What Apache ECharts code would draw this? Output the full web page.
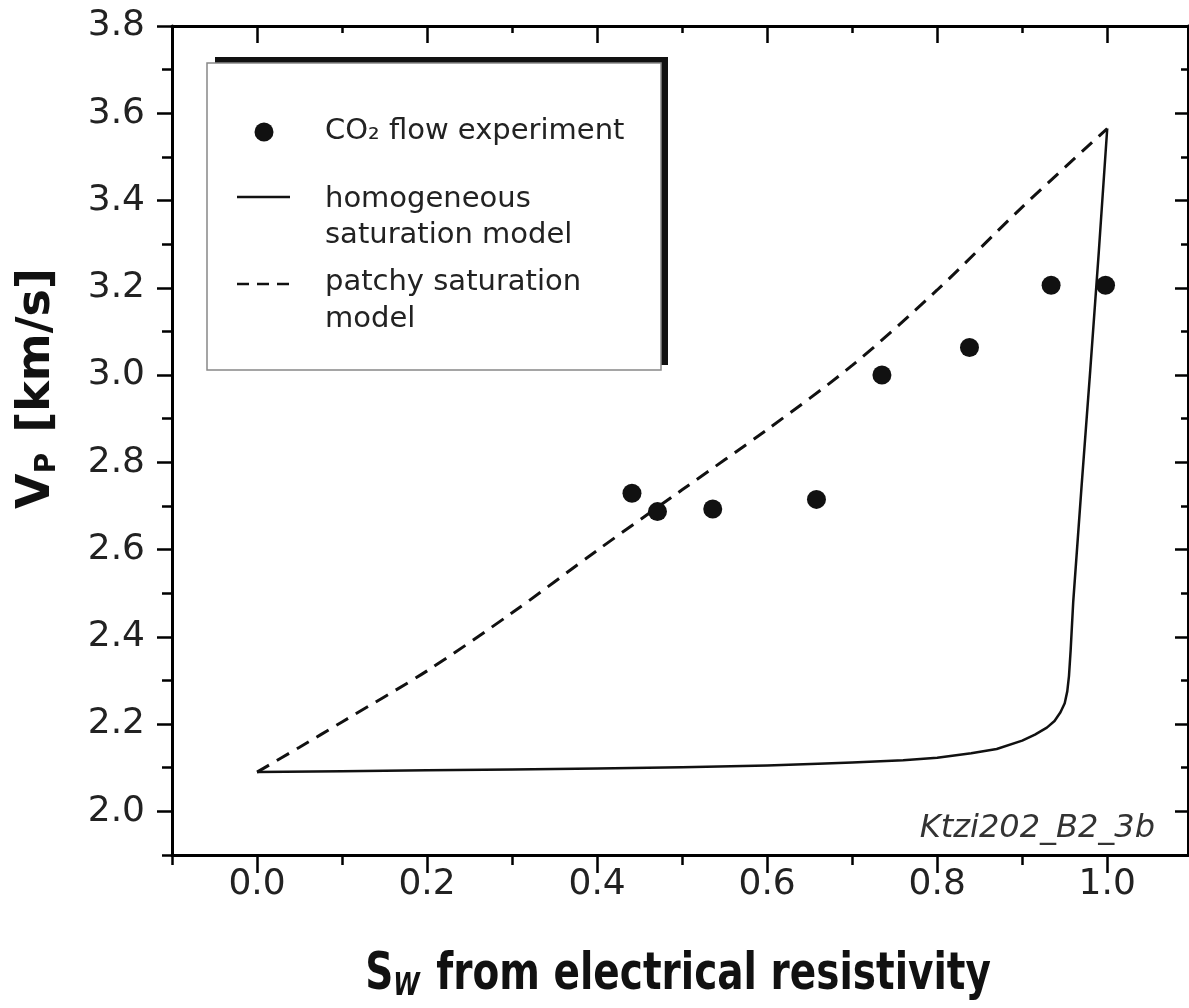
<!DOCTYPE html>
<html>
<head>
<meta charset="utf-8">
<script src="https://cdn.jsdelivr.net/npm/echarts@6/dist/echarts.min.js"></script>
<style>html,body{margin:0;padding:0;background:#fff}#c{width:1189px;height:1008px}</style>
</head>
<body>
<div id="c"></div>
<script>
// ---- data ----
var expS = [0.441, 0.471, 0.536, 0.658, 0.735, 0.838, 0.934, 0.998];
var expV = [2.729, 2.687, 2.693, 2.715, 3.000, 3.063, 3.206, 3.206];

var homS = [0, 0.1, 0.2, 0.3, 0.4, 0.5, 0.6, 0.66, 0.7, 0.76, 0.8, 0.84, 0.87, 0.9, 0.915, 0.929, 0.938, 0.945, 0.95, 0.953, 0.955, 0.957, 0.96, 0.97, 0.98, 0.99, 1.0];
var homV = [2.09, 2.092, 2.094, 2.096, 2.098, 2.101, 2.105, 2.109, 2.112, 2.117, 2.123, 2.133, 2.143, 2.162, 2.176, 2.192, 2.207, 2.227, 2.248, 2.275, 2.31, 2.37, 2.48, 2.75, 3.01, 3.28, 3.565];

var patS = [0, 0.05, 0.1, 0.2, 0.3, 0.4, 0.5, 0.6, 0.7, 0.8, 0.9, 1.0];
var patV = [2.09, 2.147, 2.205, 2.322, 2.455, 2.598, 2.737, 2.875, 3.022, 3.195, 3.385, 3.565];

var xMajor = [0, 0.2, 0.4, 0.6, 0.8, 1.0];
var xMinor = [-0.1, 0.1, 0.3, 0.5, 0.7, 0.9];
var yMajor = [2.0, 2.2, 2.4, 2.6, 2.8, 3.0, 3.2, 3.4, 3.6, 3.8];
var yMinor = [1.9, 2.1, 2.3, 2.5, 2.7, 2.9, 3.1, 3.3, 3.5, 3.7];

function pairs(a, b) { return a.map(function (v, i) { return [v, b[i]]; }); }

var chart = echarts.init(document.getElementById('c'), null, {renderer: 'canvas'});
var labelFont = {fontFamily: 'DejaVu Sans', fontSize: 36, color: '#222'};
var XMIN = -0.1, XMAX = 1.095, YMIN = 1.9, YMAX = 3.8;

function xa(pos, vals, len, inside, showLine, label) {
  return {
    type: 'value', position: pos, min: XMIN, max: XMAX, interval: 0.1,
    axisLine: {show: showLine, onZero: false, lineStyle: {color: '#000', width: 3}},
    axisTick: {show: true, inside: inside, length: len, customValues: vals, lineStyle: {color: '#000', width: 2.5}},
    axisLabel: label ? Object.assign({show: true, customValues: vals, margin: 12, formatter: function (v) { return v.toFixed(1); }}, labelFont) : {show: false},
    splitLine: {show: false}
  };
}
function ya(pos, vals, len, inside, showLine, label) {
  return {
    type: 'value', position: pos, min: YMIN, max: YMAX, interval: 0.1,
    axisLine: {show: showLine, onZero: false, lineStyle: {color: '#000', width: 3}},
    axisTick: {show: true, inside: inside, length: len, customValues: vals, lineStyle: {color: '#000', width: 2.5}},
    axisLabel: label ? Object.assign({show: true, customValues: vals, margin: 27, formatter: function (v) { return v.toFixed(1); }}, labelFont) : {show: false},
    splitLine: {show: false}
  };
}

var y0 = ya('left', yMajor, 15, false, true, true);
y0.name = '{b|V}{s|P}{b| [km/s]}';
y0.nameLocation = 'middle';
y0.nameGap = 110;
y0.nameTextStyle = {
  padding: [0, 0, 0, 104],
  rich: {
    b: {fontFamily: 'DejaVu Sans', fontWeight: 'bold', fontSize: 46, color: '#111', lineHeight: 50},
    s: {fontFamily: 'DejaVu Sans', fontWeight: 'bold', fontSize: 28, color: '#111', verticalAlign: 'bottom', lineHeight: 32, padding: [10, 4, 0, 0]}
  }
};

var legendFont = '29px DejaVu Sans';
var option = {
  backgroundColor: '#fff',
  animation: false,
  grid: {left: 172, right: 1, top: 26, bottom: 153, containLabel: false, outerBoundsMode: 'none'},
  xAxis: [
    xa('bottom', xMajor, 18, false, true, true),
    xa('bottom', xMinor, 10, false, false, false),
    xa('top', xMajor, 17, true, true, false),
    xa('top', xMinor, 7, true, false, false)
  ],
  yAxis: [
    y0,
    ya('left', yMinor, 10, false, false, false),
    ya('right', yMajor, 13, true, true, false),
    ya('right', yMinor, 7, true, false, false)
  ],
  series: [
    {
      name: 'patchy saturation model', type: 'line', xAxisIndex: 0, yAxisIndex: 0,
      data: pairs(patS, patV), showSymbol: false, smooth: 0.3,
      lineStyle: {color: '#111', width: 3, type: [14, 9]}, z: 3
    },
    {
      name: 'homogeneous saturation model', type: 'line', xAxisIndex: 0, yAxisIndex: 0,
      data: pairs(homS, homV), showSymbol: false, smooth: false,
      lineStyle: {color: '#111', width: 2.5, join: 'round'}, z: 3
    },
    {
      name: 'CO2 flow experiment', type: 'scatter', xAxisIndex: 0, yAxisIndex: 0,
      data: pairs(expS, expV), symbol: 'circle', symbolSize: 19,
      itemStyle: {color: '#111', opacity: 1}, z: 4
    }
  ],
  graphic: [
    {type: 'rect', shape: {x: 215, y: 57, width: 453, height: 308}, style: {fill: '#111'}, z: 10},
    {type: 'rect', shape: {x: 207, y: 63, width: 454, height: 307}, style: {fill: '#fff', stroke: '#888', lineWidth: 1.5}, z: 11},
    {type: 'circle', shape: {cx: 264, cy: 132, r: 9.5}, style: {fill: '#111'}, z: 12},
    {type: 'line', shape: {x1: 237, y1: 197, x2: 290, y2: 197}, style: {stroke: '#111', lineWidth: 2.5}, z: 12},
    {type: 'line', shape: {x1: 237, y1: 284, x2: 290, y2: 284}, style: {stroke: '#111', lineWidth: 2.5, lineDash: [12, 8]}, z: 12},
    {type: 'text', x: 325, y: 117, style: {text: 'CO\u2082 flow experiment', font: legendFont, fill: '#222', verticalAlign: 'top'}, z: 12},
    {type: 'text', x: 325, y: 185, style: {text: 'homogeneous', font: legendFont, fill: '#222', verticalAlign: 'top'}, z: 12},
    {type: 'text', x: 325, y: 221, style: {text: 'saturation model', font: legendFont, fill: '#222', verticalAlign: 'top'}, z: 12},
    {type: 'text', x: 325, y: 268, style: {text: 'patchy saturation', font: legendFont, fill: '#222', verticalAlign: 'top'}, z: 12},
    {type: 'text', x: 325, y: 305, style: {text: 'model', font: legendFont, fill: '#222', verticalAlign: 'top'}, z: 12},
    {type: 'text', x: 1155, y: 813, style: {text: 'Ktzi202_B2_3b', font: 'italic 32px DejaVu Sans', fill: '#333', align: 'right', verticalAlign: 'top'}, z: 12},
    {
      type: 'text', x: 678, y: 947, scaleX: 0.75, z: 12,
      style: {
        text: '{b|S}{s|W}{b| from electrical resistivity}',
        align: 'center', verticalAlign: 'top',
        rich: {
          b: {font: 'bold 52px DejaVu Sans', fill: '#111', lineHeight: 56},
          s: {font: 'italic bold 32px DejaVu Sans', fill: '#111', verticalAlign: 'bottom', lineHeight: 24, padding: [0, 4, 0, 0]}
        }
      }
    }
  ]
};
chart.setOption(option);
</script>
</body>
</html>
